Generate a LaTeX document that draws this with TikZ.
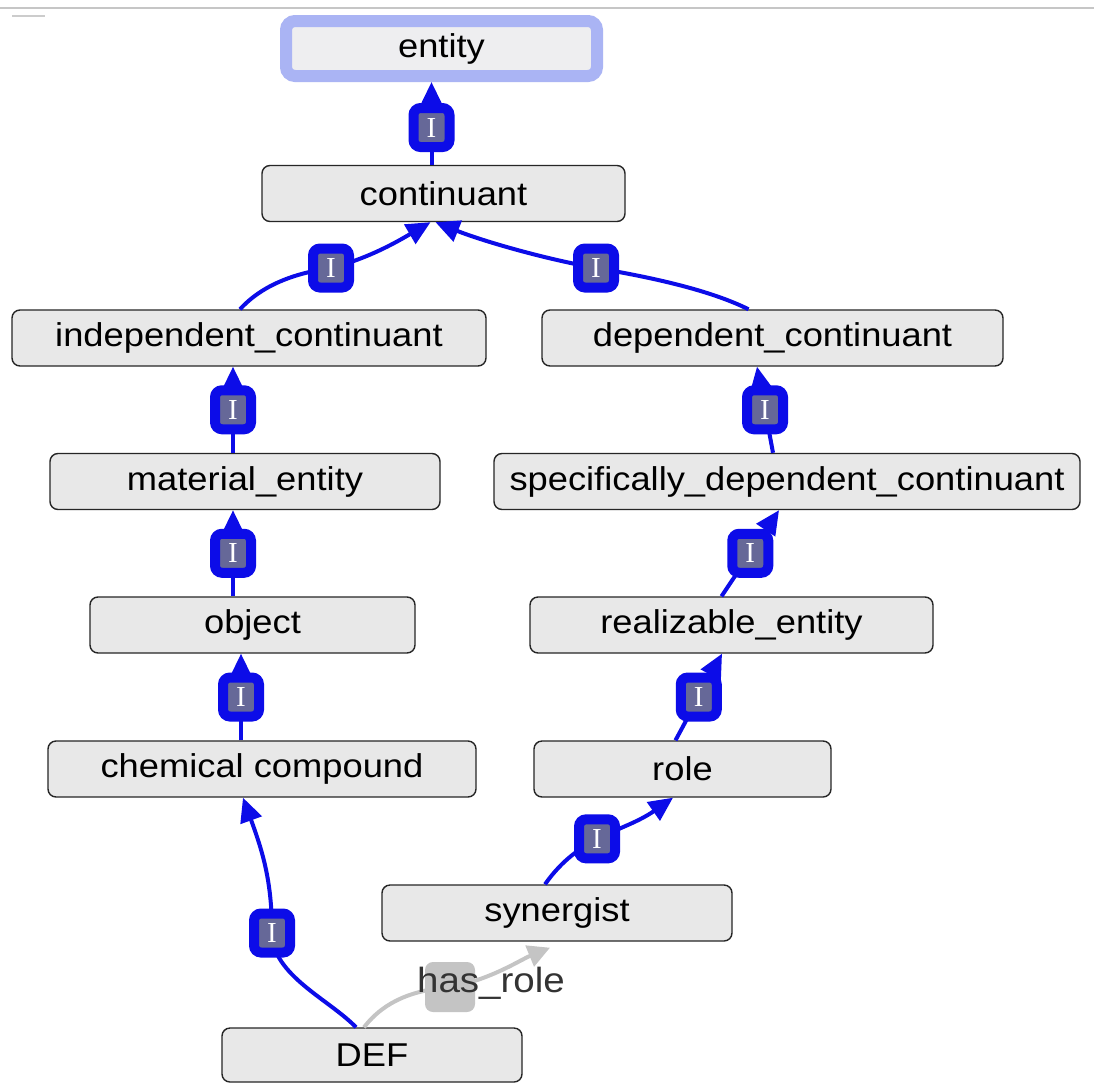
\documentclass[tikz,border=0pt]{standalone}
\usepackage{fontspec}
\setmainfont{Liberation Sans}[FakeStretch=1.1]
\newfontfamily\tagfont{Liberation Serif}
\usetikzlibrary{arrows.meta}
\definecolor{edgeblue}{RGB}{12,12,232}
\definecolor{boxgray}{RGB}{232,232,232}
\definecolor{tagfill}{RGB}{102,104,152}
\definecolor{focusblue}{RGB}{170,180,244}
\definecolor{focusfill}{RGB}{238,238,240}
\definecolor{relgray}{RGB}{196,196,196}
\begin{document}
\begin{tikzpicture}[x=1pt,y=1pt,
  cls/.style={draw=black!85, line width=1.4pt, fill=boxgray, rounded corners=8pt,
    minimum height=56pt, inner sep=0pt, font=\fontsize{33}{36}\selectfont},
  focus/.style={draw=focusblue, line width=12pt, fill=focusfill, rounded corners=9pt,
    minimum height=55pt, inner sep=0pt, outer sep=6pt, font=\fontsize{33}{36}\selectfont},
  isa/.style={draw=edgeblue, line width=4pt, -{Triangle[length=24pt,width=22pt]}},
  itag/.style={draw=edgeblue, line width=10pt, fill=tagfill, rounded corners=7pt,
    minimum width=36pt, minimum height=39pt, inner sep=0pt, text=white,
    font=\tagfont\fontsize{29}{29}\selectfont},
  rel/.style={draw=relgray, line width=4pt, -{Triangle[length=22pt,width=22pt]}},
  reltag/.style={fill=relgray, rounded corners=8pt, minimum width=50pt, minimum height=50pt, inner sep=0pt},
]
\useasboundingbox[fill=white] (0,0) rectangle (1094,-1084);

% window frame remnants along the top edge
\draw[gray!45, line width=2.5pt] (0,-8) -- (1094,-8);
\draw[gray!40, line width=1.5pt] (12,-16) -- (45,-16);

% class nodes
\node[focus, minimum width=311pt] (entity) at (441.5,-48.5) {entity};
\node[cls, minimum width=363pt] (continuant) at (443.5,-193.5) {continuant};
\node[cls, minimum width=474pt] (indep) at (249,-338) {independent\_continuant};
\node[cls, minimum width=461pt] (dep) at (772.5,-338) {dependent\_continuant};
\node[cls, minimum width=390pt] (material) at (245,-481.5) {material\_entity};
\node[cls, minimum width=586pt] (sdc) at (787,-481.5) {specifically\_dependent\_continuant};
\node[cls, minimum width=325pt] (object) at (252.5,-625) {object};
\node[cls, minimum width=403pt] (realizable) at (731.5,-625) {realizable\_entity};
\node[cls, minimum width=428pt] (chem) at (262,-769) {chemical compound};
\node[cls, minimum width=297pt] (role) at (682.5,-769) {role};
\node[cls, minimum width=350pt] (synergist) at (557,-913) {synergist};
\node[cls, minimum width=300pt, minimum height=54pt] (DEF) at (372,-1055) {DEF};

% is_a links
\draw[isa] ([xshift=-12pt]continuant.north) -- node[itag,pos=0.45]{I} ([xshift=-10pt]entity.south);
\draw[isa] ([xshift=-9pt]indep.north) .. controls (262,-285) and (295,-273) .. (331,-268) node[itag]{I}
   .. controls (370,-258) and (400,-240) .. ([xshift=-13pt]continuant.south);
\draw[isa] ([xshift=-24pt]dep.north) .. controls (710,-290) and (650,-277) .. (596,-268) node[itag]{I}
   .. controls (540,-258) and (480,-240) .. ([xshift=-8pt]continuant.south);
\draw[isa] ([xshift=-12pt]material.north) -- node[itag]{I} ([xshift=-16pt]indep.south);
\draw[isa] ([xshift=-14pt]sdc.north) -- node[itag]{I} ([xshift=-15.5pt]dep.south);
\draw[isa] ([xshift=-10pt]realizable.north) -- node[itag]{I} ([xshift=-8pt]sdc.south);
\draw[isa] ([xshift=-19.5pt]object.north) -- node[itag]{I} ([xshift=-12pt]material.south);
\draw[isa] ([xshift=-7pt]role.north) -- node[itag]{I} ([xshift=-9.5pt]realizable.south);
\draw[isa] ([xshift=-21pt]chem.north) -- node[itag]{I} ([xshift=-11.5pt]object.south);
\draw[isa] ([xshift=-12pt]synergist.north) to[out=55,in=215] node[itag,pos=0.45]{I} ([xshift=-9.5pt]role.south);
\draw[isa] ([xshift=-16pt]DEF.north) .. controls (330,-1000) and (272,-975) .. (272,-933) node[itag]{I}
   .. controls (272,-880) and (262,-850) .. ([xshift=-19pt]chem.south);

% has_role link
\draw[rel] ([xshift=-8pt]DEF.north) .. controls (385,-1000) and (415,-990) .. (450,-987) node[reltag]{}
   .. controls (490,-980) and (520,-960) .. ([xshift=-7pt,yshift=-6pt]synergist.south);
\node[text=black!80, font=\fontsize{35}{36}\selectfont] (hasrole) at (491,-983) {has\_role};
\end{tikzpicture}
\end{document}
